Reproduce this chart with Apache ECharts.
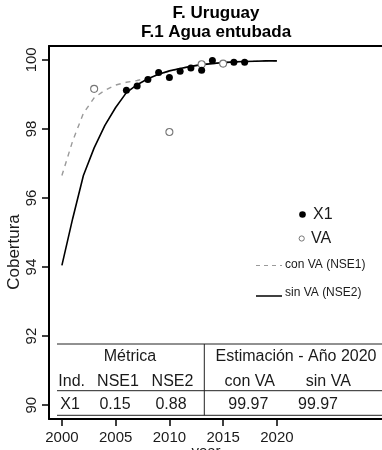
<!DOCTYPE html>
<html>
<head>
<meta charset="utf-8">
<script src="https://cdn.jsdelivr.net/npm/echarts@6/dist/echarts.min.js"></script>
<style>
  html, body { margin: 0; padding: 0; background: #fff; }
  #chart { width: 382px; height: 450px; }
</style>
</head>
<body>
<div id="chart"></div>
<script>
// Coverage series for indicator X1 (Uruguay, piped water)
const years = [2000, 2001, 2002, 2003, 2004, 2005, 2006, 2007, 2008, 2009, 2010,
               2011, 2012, 2013, 2014, 2015, 2016, 2017, 2018, 2019, 2020];

// Fitted curve with VA (NSE1), dashed grey
const fitConVA = [96.65, 97.65, 98.45, 98.90, 99.12, 99.27, 99.35, 99.40, 99.48, 99.58, 99.67,
                  99.75, 99.81, 99.86, 99.89, 99.92, 99.94, 99.95, 99.96, 99.97, 99.97];
// Fitted curve without VA (NSE2), solid black
const fitSinVA = [94.05, 95.40, 96.65, 97.45, 98.10, 98.62, 99.05, 99.28, 99.45, 99.58, 99.68,
                  99.75, 99.81, 99.86, 99.89, 99.92, 99.94, 99.95, 99.96, 99.97, 99.97];

// Observed X1 values
const x1Years  = [2006, 2007, 2008, 2009, 2010, 2011, 2012, 2013, 2014, 2016, 2017];
const x1Values = [99.12, 99.24, 99.43, 99.63, 99.49, 99.67, 99.76, 99.70, 99.98, 99.93, 99.93];

// Observed VA values
const vaYears  = [2003, 2010, 2013, 2015];
const vaValues = [99.16, 97.91, 99.87, 99.89];

// Tick labels
const xTicks = [2000, 2005, 2010, 2015, 2020];
const yTicks = [90, 92, 94, 96, 98, 100];

// Summary table
const tableTop    = ['Métrica', 'Estimación - Año 2020'];
const tableHeader = ['Ind.', 'NSE1', 'NSE2', 'con VA', 'sin VA'];
const tableRow    = ['X1', '0.15', '0.88', '99.97', '99.97'];

const FONT = '"Liberation Sans", Arial, sans-serif';
const pairs = (xs, ys) => xs.map((x, i) => [x, ys[i]]);

const chart = echarts.init(document.getElementById('chart'), null, { renderer: 'canvas' });

// table geometry
const topCenters = [130, 296];
const headCenters = [71.7, 118, 172.5, 249.7, 328.3];
const rowCenters = [70, 115, 171, 248.3, 318];

function txt(x, y, text, font, extra) {
  return {
    type: 'text', x: x, y: y, z: 10,
    style: Object.assign({
      text: text, fill: '#1a1a1a', font: font,
      align: 'center', verticalAlign: 'middle'
    }, extra || {})
  };
}
function hline(x1, x2, y, color, w, dash) {
  return { type: 'line', z: 10,
    shape: { x1: x1, y1: y, x2: x2, y2: y },
    style: { stroke: color, lineWidth: w, lineDash: dash || null } };
}

const graphics = [
  // titles
  txt(216, 13, 'F. Uruguay', 'bold 17px ' + FONT, { fill: '#000' }),
  txt(216, 32, 'F.1 Agua entubada', 'bold 17px ' + FONT, { fill: '#000' }),
  // axis titles
  { type: 'text', x: 14, y: 252, rotation: Math.PI / 2, z: 10,
    style: { text: 'Cobertura', font: '17px ' + FONT, fill: '#1a1a1a', align: 'center', verticalAlign: 'middle' } },
  txt(206, 452, 'year', '15px ' + FONT),

  // legend
  { type: 'circle', z: 10, shape: { cx: 302.5, cy: 214.5, r: 3.3 }, style: { fill: '#000' } },
  txt(313, 214.5, 'X1', '16px ' + FONT, { align: 'left' }),
  { type: 'circle', z: 10, shape: { cx: 301.7, cy: 238.5, r: 2.6 }, style: { fill: '#fff', stroke: '#777', lineWidth: 1 } },
  txt(311, 239, 'VA', '16px ' + FONT, { align: 'left' }),
  hline(256, 282, 265.5, '#9a9a9a', 1.2, [4, 4]),
  txt(285, 264.5, 'con VA (NSE1)', '12px ' + FONT, { align: 'left' }),
  hline(256, 282, 296, '#000', 1.5),
  txt(285, 293, 'sin VA (NSE2)', '12px ' + FONT, { align: 'left' }),

  // table rules
  hline(57, 382, 344, '#222', 1),
  hline(57, 382, 390.7, '#222', 1),
  hline(57, 382, 415.3, '#222', 1),
  { type: 'line', z: 10, shape: { x1: 204.3, y1: 344, x2: 204.3, y2: 415.3 }, style: { stroke: '#222', lineWidth: 1 } }
];
tableTop.forEach((t, i) => graphics.push(txt(topCenters[i], 357, t, '16px ' + FONT)));
tableHeader.forEach((t, i) => graphics.push(txt(headCenters[i], 382, t, '16px ' + FONT)));
tableRow.forEach((t, i) => graphics.push(txt(rowCenters[i], 404.5, t, '16px ' + FONT)));

const tickStyle = { color: '#000', width: 1.5 };
const frameLine = { show: true, lineStyle: { color: '#000', width: 2 } };

const option = {
  backgroundColor: '#fff',
  animation: false,
  // the plotting box runs off the right edge of the page
  grid: { left: 49, top: 46, right: 0, height: 373, show: false },
  xAxis: [
    {
      type: 'value', min: 1998.8, max: 2029.78, position: 'bottom',
      splitLine: { show: false },
      axisLine: frameLine,
      axisTick: { show: true, inside: false, length: 7, customValues: xTicks, lineStyle: tickStyle },
      axisLabel: { show: true, customValues: xTicks, margin: 11,
                   color: '#1a1a1a', fontSize: 15, fontFamily: FONT,
                   formatter: v => String(v) }
    },
    {
      // top edge of the frame
      type: 'value', min: 1998.8, max: 2029.78, position: 'top',
      splitLine: { show: false },
      axisLine: frameLine,
      axisTick: { show: false },
      axisLabel: { show: false }
    }
  ],
  yAxis: {
    type: 'value', min: 89.6, max: 100.4,
    splitLine: { show: false },
    axisLine: frameLine,
    axisTick: { show: true, inside: false, length: 7, customValues: yTicks, lineStyle: tickStyle },
    axisLabel: { show: true, customValues: yTicks, margin: 10, rotate: 90,
                 color: '#1a1a1a', fontSize: 15, fontFamily: FONT,
                 formatter: v => String(v) }
  },
  series: [
    {
      name: 'con VA (NSE1)', type: 'line', data: pairs(years, fitConVA),
      showSymbol: false, symbol: 'none', smooth: false, z: 2,
      lineStyle: { color: '#9a9a9a', width: 1.4, type: [5, 5] }
    },
    {
      name: 'sin VA (NSE2)', type: 'line', data: pairs(years, fitSinVA),
      showSymbol: false, symbol: 'none', smooth: false, z: 3,
      lineStyle: { color: '#000', width: 1.6 }
    },
    {
      name: 'VA', type: 'scatter', data: pairs(vaYears, vaValues), z: 4,
      symbol: 'circle', symbolSize: 7,
      itemStyle: { color: '#fff', borderColor: '#777', borderWidth: 1.1, opacity: 1 }
    },
    {
      name: 'X1', type: 'scatter', data: pairs(x1Years, x1Values), z: 5,
      symbol: 'circle', symbolSize: 7,
      itemStyle: { color: '#000', opacity: 1 }
    }
  ],
  graphic: graphics
};

chart.setOption(option);
</script>
</body>
</html>
